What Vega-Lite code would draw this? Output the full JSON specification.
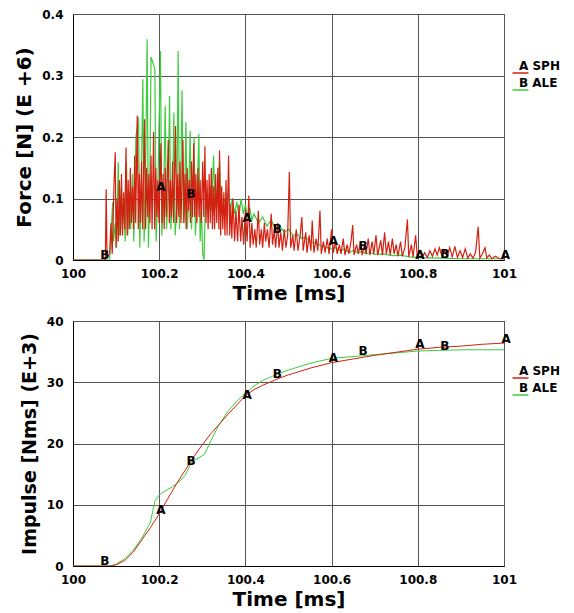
{
  "$schema": "https://vega.github.io/schema/vega-lite/v6.json",
  "padding": {"left": 14, "top": 7, "right": 0, "bottom": 0},
  "spacing": 10,
  "datasets": {
    "fA": [
      {"t":100.0,"f":0},{"t":100.075,"f":0},{"t":100.077,"f":0.115},{"t":100.079,"f":0.005},{"t":100.085,"f":0.01},{"t":100.088,"f":0.06},{"t":100.091,"f":0.01},{"t":100.095,"f":0.12},{"t":100.098,"f":0.175},
      {"t":100.1,"f":0.02},{"t":100.1025,"f":0.1},{"t":100.105,"f":0.03},{"t":100.1075,"f":0.13},{"t":100.11,"f":0.04},{"t":100.1125,"f":0.14},{"t":100.115,"f":0.04},{"t":100.1175,"f":0.11},{"t":100.12,"f":0.05},{"t":100.123,"f":0.183},{"t":100.1255,"f":0.04},{"t":100.128,"f":0.13},{"t":100.1305,"f":0.05},{"t":100.133,"f":0.15},{"t":100.1355,"f":0.06},{"t":100.138,"f":0.12},{"t":100.1405,"f":0.05},{"t":100.143,"f":0.17},{"t":100.1455,"f":0.06},{"t":100.149,"f":0.235},{"t":100.1515,"f":0.05},{"t":100.154,"f":0.14},{"t":100.1565,"f":0.06},{"t":100.159,"f":0.16},{"t":100.1615,"f":0.05},{"t":100.166,"f":0.229},{"t":100.1685,"f":0.05},{"t":100.171,"f":0.15},{"t":100.1735,"f":0.07},{"t":100.176,"f":0.14},{"t":100.1785,"f":0.06},{"t":100.181,"f":0.17},{"t":100.1835,"f":0.05},{"t":100.187,"f":0.208},{"t":100.1895,"f":0.05},{"t":100.192,"f":0.15},{"t":100.1945,"f":0.07},{"t":100.197,"f":0.13},{"t":100.1995,"f":0.06},{"t":100.204,"f":0.19},{"t":100.2065,"f":0.06},{"t":100.209,"f":0.14},{"t":100.2115,"f":0.05},{"t":100.214,"f":0.15},{"t":100.2165,"f":0.07},{"t":100.221,"f":0.195},{"t":100.2235,"f":0.06},{"t":100.226,"f":0.13},{"t":100.2285,"f":0.07},{"t":100.231,"f":0.16},{"t":100.2335,"f":0.06},{"t":100.238,"f":0.218},{"t":100.2405,"f":0.06},{"t":100.243,"f":0.14},{"t":100.2455,"f":0.07},{"t":100.248,"f":0.16},{"t":100.2505,"f":0.06},{"t":100.255,"f":0.195},{"t":100.2575,"f":0.06},{"t":100.26,"f":0.14},{"t":100.2625,"f":0.05},{"t":100.265,"f":0.15},{"t":100.2675,"f":0.08},{"t":100.27,"f":0.13},{"t":100.2725,"f":0.06},{"t":100.275,"f":0.16},{"t":100.2775,"f":0.07},{"t":100.28,"f":0.19},{"t":100.2825,"f":0.07},{"t":100.285,"f":0.14},{"t":100.2875,"f":0.06},{"t":100.29,"f":0.15},{"t":100.2925,"f":0.07},{"t":100.295,"f":0.13},{"t":100.2975,"f":0.06},{"t":100.301,"f":0.16},{"t":100.3035,"f":0.07},{"t":100.306,"f":0.185},{"t":100.3085,"f":0.06},{"t":100.311,"f":0.13},{"t":100.3135,"f":0.05},{"t":100.316,"f":0.14},{"t":100.3185,"f":0.06},{"t":100.321,"f":0.15},{"t":100.3235,"f":0.05},{"t":100.326,"f":0.12},{"t":100.3285,"f":0.05},{"t":100.331,"f":0.14},{"t":100.3335,"f":0.06},{"t":100.336,"f":0.15},{"t":100.3385,"f":0.05},{"t":100.34,"f":0.178},{"t":100.3425,"f":0.04},{"t":100.345,"f":0.12},{"t":100.3475,"f":0.05},{"t":100.35,"f":0.11},{"t":100.3525,"f":0.04},{"t":100.355,"f":0.13},{"t":100.3575,"f":0.04},{"t":100.361,"f":0.17},{"t":100.3635,"f":0.04},{"t":100.366,"f":0.09},{"t":100.3685,"f":0.035},{"t":100.371,"f":0.1},
      {"t":100.375,"f":0.03},{"t":100.378,"f":0.08},{"t":100.382,"f":0.03},{"t":100.385,"f":0.09},{"t":100.389,"f":0.03},{"t":100.392,"f":0.07},{"t":100.396,"f":0.025},{"t":100.4,"f":0.08},{"t":100.404,"f":0.03},{"t":100.408,"f":0.105},{"t":100.411,"f":0.02},{"t":100.415,"f":0.06},{"t":100.418,"f":0.025},{"t":100.422,"f":0.05},{"t":100.425,"f":0.02},{"t":100.43,"f":0.08},{"t":100.433,"f":0.025},{"t":100.437,"f":0.05},{"t":100.44,"f":0.02},{"t":100.444,"f":0.06},{"t":100.447,"f":0.03},{"t":100.451,"f":0.05},{"t":100.455,"f":0.02},{"t":100.46,"f":0.075},{"t":100.463,"f":0.025},{"t":100.467,"f":0.05},{"t":100.47,"f":0.02},{"t":100.475,"f":0.06},{"t":100.478,"f":0.02},{"t":100.482,"f":0.045},{"t":100.486,"f":0.015},{"t":100.49,"f":0.05},{"t":100.494,"f":0.02},{"t":100.498,"f":0.04},{"t":100.502,"f":0.143},{"t":100.505,"f":0.02},{"t":100.51,"f":0.04},{"t":100.513,"f":0.015},{"t":100.518,"f":0.05},{"t":100.522,"f":0.015},{"t":100.527,"f":0.04},{"t":100.531,"f":0.07},{"t":100.534,"f":0.015},{"t":100.54,"f":0.045},{"t":100.543,"f":0.012},{"t":100.548,"f":0.04},{"t":100.552,"f":0.015},{"t":100.555,"f":0.064},{"t":100.559,"f":0.012},{"t":100.564,"f":0.035},{"t":100.568,"f":0.015},{"t":100.573,"f":0.08},{"t":100.576,"f":0.01},{"t":100.581,"f":0.03},{"t":100.585,"f":0.012},{"t":100.59,"f":0.035},{"t":100.594,"f":0.01},{"t":100.6,"f":0.05},{"t":100.604,"f":0.012},{"t":100.609,"f":0.03},{"t":100.613,"f":0.01},{"t":100.618,"f":0.025},{"t":100.622,"f":0.01},{"t":100.627,"f":0.035},{"t":100.631,"f":0.008},{"t":100.636,"f":0.025},{"t":100.64,"f":0.01},{"t":100.645,"f":0.03},{"t":100.649,"f":0.057},{"t":100.652,"f":0.008},{"t":100.658,"f":0.025},{"t":100.662,"f":0.01},{"t":100.667,"f":0.03},{"t":100.671,"f":0.008},{"t":100.676,"f":0.025},{"t":100.68,"f":0.01},{"t":100.685,"f":0.035},{"t":100.689,"f":0.008},{"t":100.694,"f":0.03},{"t":100.698,"f":0.01},{"t":100.703,"f":0.04},{"t":100.707,"f":0.008},{"t":100.714,"f":0.032},{"t":100.718,"f":0.008},{"t":100.723,"f":0.045},{"t":100.727,"f":0.01},{"t":100.732,"f":0.03},{"t":100.736,"f":0.008},{"t":100.741,"f":0.035},{"t":100.745,"f":0.01},{"t":100.75,"f":0.025},{"t":100.754,"f":0.006},{"t":100.76,"f":0.03},{"t":100.764,"f":0.006},{"t":100.77,"f":0.02},{"t":100.776,"f":0.066},{"t":100.779,"f":0.005},{"t":100.785,"f":0.025},{"t":100.789,"f":0.005},{"t":100.795,"f":0.04},{"t":100.799,"f":0.004},{"t":100.805,"f":0.015},{"t":100.81,"f":0.004},{"t":100.816,"f":0.012},{"t":100.822,"f":0.004},{"t":100.828,"f":0.015},{"t":100.834,"f":0.006},{"t":100.84,"f":0.018},{"t":100.845,"f":0.008},{"t":100.85,"f":0.02},{"t":100.856,"f":0.006},{"t":100.862,"f":0.016},{"t":100.868,"f":0.005},{"t":100.874,"f":0.02},{"t":100.88,"f":0.005},{"t":100.886,"f":0.022},{"t":100.892,"f":0.004},{"t":100.898,"f":0.015},{"t":100.904,"f":0.004},{"t":100.91,"f":0.018},{"t":100.916,"f":0.003},{"t":100.922,"f":0.01},{"t":100.928,"f":0.003},{"t":100.934,"f":0.012},{"t":100.94,"f":0.054},{"t":100.944,"f":0.003},{"t":100.95,"f":0.01},{"t":100.956,"f":0.02},{"t":100.96,"f":0.003},{"t":100.966,"f":0.008},{"t":100.972,"f":0.002},{"t":100.98,"f":0.006},{"t":100.99,"f":0.002},{"t":101.0,"f":0.002}
    ],
    "fB": [
      {"t":100.0,"f":0},{"t":100.085,"f":0},{"t":100.088,"f":0.04},{"t":100.092,"f":0.094},{"t":100.094,"f":0.03},{"t":100.098,"f":0.06},{"t":100.101,"f":0.02},{"t":100.105,"f":0.159},{"t":100.108,"f":0.04},{"t":100.112,"f":0.12},{"t":100.114,"f":0.05},{"t":100.118,"f":0.09},{"t":100.121,"f":0.03},{"t":100.124,"f":0.16},{"t":100.127,"f":0.04},{"t":100.131,"f":0.11},{"t":100.134,"f":0.05},{"t":100.138,"f":0.14},{"t":100.141,"f":0.03},{"t":100.146,"f":0.2},{"t":100.152,"f":0.232},{"t":100.155,"f":0.02},{"t":100.158,"f":0.1},{"t":100.162,"f":0.294},{"t":100.165,"f":0.03},{"t":100.168,"f":0.12},{"t":100.172,"f":0.359},{"t":100.175,"f":0.02},{"t":100.178,"f":0.1},{"t":100.181,"f":0.33},{"t":100.19,"f":0.31},{"t":100.193,"f":0.03},{"t":100.197,"f":0.12},{"t":100.203,"f":0.34},{"t":100.206,"f":0.04},{"t":100.21,"f":0.1},{"t":100.214,"f":0.25},{"t":100.217,"f":0.05},{"t":100.221,"f":0.11},{"t":100.224,"f":0.267},{"t":100.227,"f":0.05},{"t":100.231,"f":0.1},{"t":100.234,"f":0.24},{"t":100.237,"f":0.04},{"t":100.241,"f":0.09},{"t":100.244,"f":0.34},{"t":100.247,"f":0.05},{"t":100.25,"f":0.12},{"t":100.253,"f":0.276},{"t":100.256,"f":0.06},{"t":100.259,"f":0.1},{"t":100.262,"f":0.224},{"t":100.265,"f":0.05},{"t":100.268,"f":0.09},{"t":100.272,"f":0.21},{"t":100.275,"f":0.05},{"t":100.278,"f":0.11},{"t":100.281,"f":0.2},{"t":100.284,"f":0.04},{"t":100.288,"f":0.1},{"t":100.292,"f":0.205},{"t":100.295,"f":0.03},{"t":100.298,"f":0.08},{"t":100.301,"f":0.01},{"t":100.304,"f":0.0},{"t":100.307,"f":0.09},{"t":100.31,"f":0.11},{"t":100.314,"f":0.07},{"t":100.318,"f":0.12},{"t":100.322,"f":0.08},{"t":100.326,"f":0.17},{"t":100.33,"f":0.085},{"t":100.335,"f":0.1},{"t":100.34,"f":0.16},{"t":100.344,"f":0.08},{"t":100.35,"f":0.1},{"t":100.355,"f":0.09},{"t":100.36,"f":0.11},{"t":100.365,"f":0.085},{"t":100.37,"f":0.1},{"t":100.375,"f":0.075},{"t":100.38,"f":0.095},{"t":100.385,"f":0.07},{"t":100.39,"f":0.1},{"t":100.395,"f":0.075},{"t":100.4,"f":0.09},{"t":100.405,"f":0.07},{"t":100.41,"f":0.085},{"t":100.415,"f":0.065},{"t":100.42,"f":0.075},{"t":100.43,"f":0.06},{"t":100.44,"f":0.07},{"t":100.45,"f":0.055},{"t":100.46,"f":0.065},{"t":100.47,"f":0.05},{"t":100.48,"f":0.055},{"t":100.49,"f":0.045},{"t":100.5,"f":0.05},{"t":100.51,"f":0.04},{"t":100.52,"f":0.042},{"t":100.53,"f":0.035},{"t":100.54,"f":0.037},{"t":100.55,"f":0.03},{"t":100.56,"f":0.028},{"t":100.57,"f":0.025},{"t":100.58,"f":0.022},{"t":100.59,"f":0.02},{"t":100.6,"f":0.018},{"t":100.61,"f":0.02},{"t":100.62,"f":0.015},{"t":100.63,"f":0.018},{"t":100.64,"f":0.012},{"t":100.65,"f":0.015},{"t":100.66,"f":0.012},{"t":100.67,"f":0.014},{"t":100.68,"f":0.01},{"t":100.69,"f":0.012},{"t":100.7,"f":0.009},{"t":100.72,"f":0.01},{"t":100.74,"f":0.007},{"t":100.76,"f":0.008},{"t":100.78,"f":0.005},{"t":100.8,"f":0.004},{"t":100.85,"f":0.003},{"t":100.9,"f":0.002},{"t":101.0,"f":0.002}
    ],
    "lf": [
      {"t":100.074,"v":0.008,"l":"B"},{"t":100.204,"v":0.119,"l":"A"},{"t":100.274,"v":0.108,"l":"B"},{"t":100.404,"v":0.069,"l":"A"},{"t":100.474,"v":0.05,"l":"B"},{"t":100.604,"v":0.031,"l":"A"},{"t":100.673,"v":0.023,"l":"B"},{"t":100.805,"v":0.008,"l":"A"},{"t":100.863,"v":0.01,"l":"B"},{"t":101.003,"v":0.008,"l":"A"}
    ],
    "iA": [
      {"t":100.0,"i":0},{"t":100.09,"i":0},{"t":100.1,"i":0.2},{"t":100.12,"i":0.9},{"t":100.14,"i":2.3},{"t":100.16,"i":4.3},{"t":100.18,"i":6.3},{"t":100.2,"i":8.5},{"t":100.22,"i":11},{"t":100.24,"i":13.4},{"t":100.26,"i":15.6},{"t":100.28,"i":17.8},{"t":100.3,"i":19.8},{"t":100.32,"i":21.6},{"t":100.34,"i":23.2},{"t":100.36,"i":24.8},{"t":100.38,"i":26.3},{"t":100.4,"i":27.8},{"t":100.42,"i":28.8},{"t":100.44,"i":29.5},{"t":100.46,"i":30.1},{"t":100.48,"i":30.7},{"t":100.5,"i":31.2},{"t":100.55,"i":32.3},{"t":100.6,"i":33.2},{"t":100.65,"i":33.8},{"t":100.7,"i":34.4},{"t":100.75,"i":34.9},{"t":100.8,"i":35.4},{"t":100.85,"i":35.7},{"t":100.9,"i":35.9},{"t":100.95,"i":36.2},{"t":101.0,"i":36.4}
    ],
    "iB": [
      {"t":100.0,"i":0},{"t":100.085,"i":0},{"t":100.1,"i":0.3},{"t":100.12,"i":1.2},{"t":100.14,"i":2.6},{"t":100.16,"i":4.6},{"t":100.175,"i":6.5},{"t":100.18,"i":7.2},{"t":100.185,"i":9.0},{"t":100.19,"i":10.6},{"t":100.2,"i":11.6},{"t":100.21,"i":12.1},{"t":100.23,"i":12.9},{"t":100.25,"i":14.0},{"t":100.26,"i":14.8},{"t":100.275,"i":17.0},{"t":100.29,"i":17.6},{"t":100.305,"i":18.2},{"t":100.32,"i":20.5},{"t":100.34,"i":23.2},{"t":100.36,"i":25.3},{"t":100.38,"i":26.9},{"t":100.4,"i":28.2},{"t":100.42,"i":29.4},{"t":100.44,"i":30.3},{"t":100.46,"i":30.9},{"t":100.48,"i":31.5},{"t":100.5,"i":32.0},{"t":100.55,"i":33.1},{"t":100.6,"i":33.9},{"t":100.65,"i":34.2},{"t":100.7,"i":34.5},{"t":100.75,"i":34.8},{"t":100.8,"i":35.1},{"t":100.85,"i":35.2},{"t":100.9,"i":35.3},{"t":101.0,"i":35.3}
    ],
    "li": [
      {"t":100.074,"v":0.8,"l":"B"},{"t":100.204,"v":9.1,"l":"A"},{"t":100.274,"v":17.2,"l":"B"},{"t":100.404,"v":27.9,"l":"A"},{"t":100.474,"v":31.3,"l":"B"},{"t":100.604,"v":34.0,"l":"A"},{"t":100.673,"v":35.1,"l":"B"},{"t":100.805,"v":36.3,"l":"A"},{"t":100.863,"v":35.9,"l":"B"},{"t":101.005,"v":37.1,"l":"A"}
    ]
  },
  "vconcat": [
    {
      "width": 431,
      "height": 246,
      "layer": [
        {
          "data": {"name": "fB"},
          "mark": {"type": "line", "strokeWidth": 1.2, "clip": true},
          "encoding": {
            "x": {"field": "t", "type": "quantitative", "scale": {"domain": [100, 101], "nice": false, "zero": false},
                  "axis": {"values": [100, 100.2, 100.4, 100.6, 100.8, 101], "format": "~g", "title": "Time [ms]", "labelFlush": false, "labelPadding": 8, "titlePadding": 4}},
            "y": {"field": "f", "type": "quantitative", "scale": {"domain": [0, 0.4], "nice": false},
                  "axis": {"values": [0, 0.1, 0.2, 0.3, 0.4], "format": "~g", "title": "Force [N] (E +6)", "labelPadding": 10, "titlePadding": 7}},
            "color": {"datum": "B ALE", "type": "nominal", "scale": {"domain": ["A SPH", "B ALE"], "range": ["#d42010", "#3ccc3c"]},
                      "legend": {"legendX": 442, "legendY": 46}}
          }
        },
        {
          "data": {"name": "fA"},
          "mark": {"type": "line", "strokeWidth": 1.2, "clip": true},
          "encoding": {
            "x": {"field": "t", "type": "quantitative"},
            "y": {"field": "f", "type": "quantitative"},
            "color": {"datum": "A SPH", "type": "nominal"}
          }
        },
        {
          "data": {"name": "lf"},
          "mark": {"type": "text", "font": "DejaVu Sans", "fontWeight": "bold", "fontSize": 12, "color": "#000", "align": "center", "baseline": "middle"},
          "encoding": {
            "x": {"field": "t", "type": "quantitative"},
            "y": {"field": "v", "type": "quantitative"},
            "text": {"field": "l"}
          }
        }
      ]
    },
    {
      "width": 431,
      "height": 245,
      "layer": [
        {
          "data": {"name": "iB"},
          "mark": {"type": "line", "strokeWidth": 1, "clip": true},
          "encoding": {
            "x": {"field": "t", "type": "quantitative", "scale": {"domain": [100, 101], "nice": false, "zero": false},
                  "axis": {"values": [100, 100.2, 100.4, 100.6, 100.8, 101], "format": "~g", "title": "Time [ms]", "labelFlush": false, "labelPadding": 8, "titlePadding": 4}},
            "y": {"field": "i", "type": "quantitative", "scale": {"domain": [0, 40], "nice": false},
                  "axis": {"values": [0, 10, 20, 30, 40], "format": "~g", "title": "Impulse [Nms] (E+3)", "titleFontSize": 19, "labelPadding": 10, "titlePadding": 7}},
            "color": {"datum": "B ALE", "type": "nominal", "scale": {"domain": ["A SPH", "B ALE"], "range": ["#d42010", "#3ccc3c"]},
                      "legend": {"legendX": 442, "legendY": 44}}
          }
        },
        {
          "data": {"name": "iA"},
          "mark": {"type": "line", "strokeWidth": 1, "clip": true},
          "encoding": {
            "x": {"field": "t", "type": "quantitative"},
            "y": {"field": "i", "type": "quantitative"},
            "color": {"datum": "A SPH", "type": "nominal"}
          }
        },
        {
          "data": {"name": "li"},
          "mark": {"type": "text", "font": "DejaVu Sans", "fontWeight": "bold", "fontSize": 12, "color": "#000", "align": "center", "baseline": "middle"},
          "encoding": {
            "x": {"field": "t", "type": "quantitative"},
            "y": {"field": "v", "type": "quantitative"},
            "text": {"field": "l"}
          }
        }
      ]
    }
  ],
  "resolve": {"scale": {"x": "independent", "y": "independent", "color": "independent"}, "legend": {"color": "independent"}},
  "config": {
    "view": {"stroke": "#000", "strokeWidth": 1},
    "axis": {
      "grid": true, "gridColor": "#555", "gridOpacity": 1, "gridWidth": 1,
      "domainColor": "#000", "domainWidth": 1,
      "ticks": false, "tickSize": 0,
      "labelFont": "DejaVu Sans", "labelFontWeight": "bold", "labelFontSize": 12, "labelColor": "#000", "labelOverlap": false,
      "titleFont": "DejaVu Sans", "titleFontWeight": "bold", "titleFontSize": 20, "titleColor": "#000"
    },
    "legend": {
      "orient": "none", "title": null, "padding": 0,
      "symbolType": "M-1.7,1.4L1.5,1.4", "symbolSize": 100, "symbolStrokeWidth": 1.5,
      "labelFont": "DejaVu Sans", "labelFontSize": 12, "labelFontWeight": "bold", "labelColor": "#000",
      "labelOffset": -8, "rowPadding": 1
    }
  }
}
